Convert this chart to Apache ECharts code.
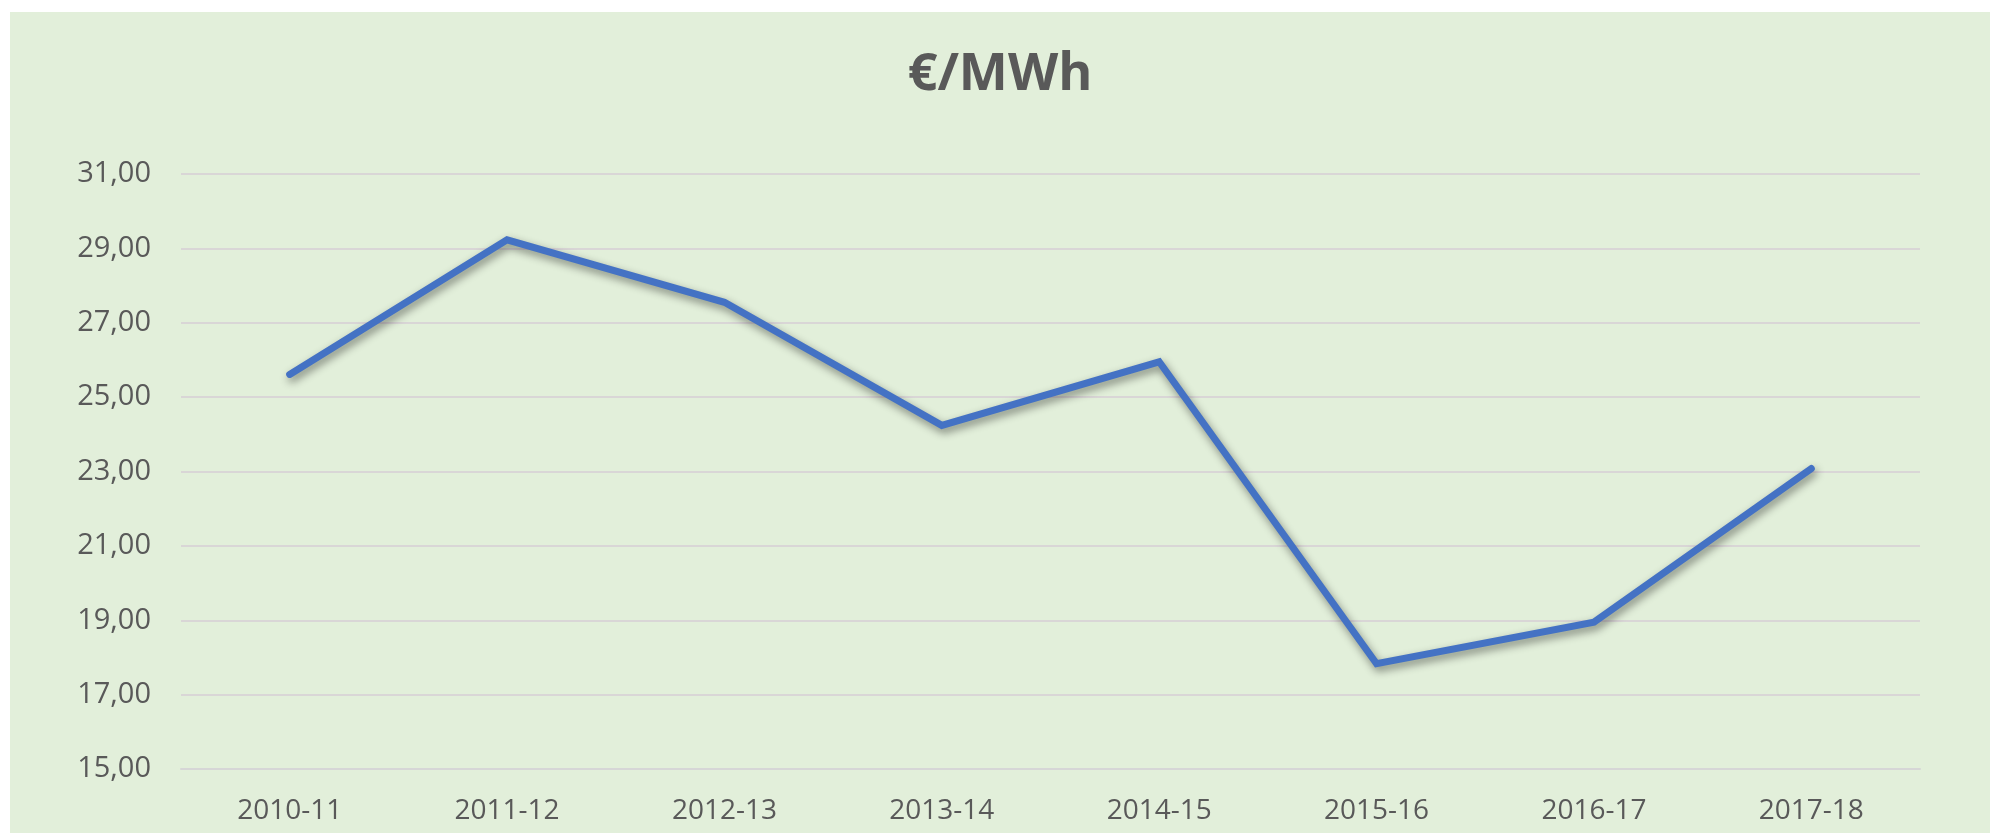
<!DOCTYPE html>
<html>
<head>
<meta charset="utf-8">
<script src="https://cdn.jsdelivr.net/npm/echarts@6/dist/echarts.min.js"></script>
<style>
    body { margin: 0; background: #ffffff; }
    #grafica { position: absolute; left: 10px; top: 12px; width: 1980px; height: 821px; background: #E2EFDA; }
</style>
</head>
<body>
<div id="grafica"></div>
<script>
    // Datos
    let temporadas = ['2010-11', '2011-12', '2012-13', '2013-14', '2014-15', '2015-16', '2016-17', '2017-18'];
    let precios = [25.61, 29.23, 27.55, 24.24, 25.95, 17.83, 18.95, 23.08];
    let ejeMin = 15;
    let ejeMax = 31;
    let ejeIntervalo = 2;

    function formatoNumero(value) {
        return Number(value).toFixed(2).replace('.', ',');
    }

    let chartDom = document.getElementById('grafica');
    let myChart = echarts.init(chartDom);
    let option = {
        backgroundColor: '#E2EFDA',
        title: {
            text: '€/MWh',
            left: 'center',
            top: 32,
            textStyle: {
                fontFamily: 'Open Sans',
                fontWeight: 'bold',
                fontSize: 52,
                color: '#595959'
            }
        },
        grid: {
            left: 171,
            right: 70,
            top: 162,
            bottom: 64
        },
        xAxis: {
            type: 'category',
            data: temporadas,
            boundaryGap: true,
            axisTick: { show: false },
            axisLine: { lineStyle: { color: '#d6d6d6', width: 2 } },
            axisLabel: {
                margin: 28,
                fontFamily: 'Open Sans',
                fontSize: 28,
                color: '#595959'
            }
        },
        yAxis: {
            type: 'value',
            min: ejeMin,
            max: ejeMax,
            interval: ejeIntervalo,
            axisLine: { show: false },
            axisTick: { show: false },
            splitLine: { lineStyle: { color: '#d9d6d6', width: 2 } },
            axisLabel: {
                margin: 30,
                fontFamily: 'Open Sans',
                fontSize: 29,
                color: '#595959',
                formatter: formatoNumero
            }
        },
        series: [
            {
                name: '€/MWh',
                type: 'line',
                data: precios,
                symbol: 'none',
                lineStyle: {
                    color: '#4472C4',
                    width: 7,
                    cap: 'round',
                    join: 'miter',
                    shadowColor: 'rgba(0,0,0,0.45)',
                    shadowBlur: 8,
                    shadowOffsetX: 2,
                    shadowOffsetY: 4
                }
            }
        ]
    };
    option && myChart.setOption(option);
</script>
</body>
</html>
